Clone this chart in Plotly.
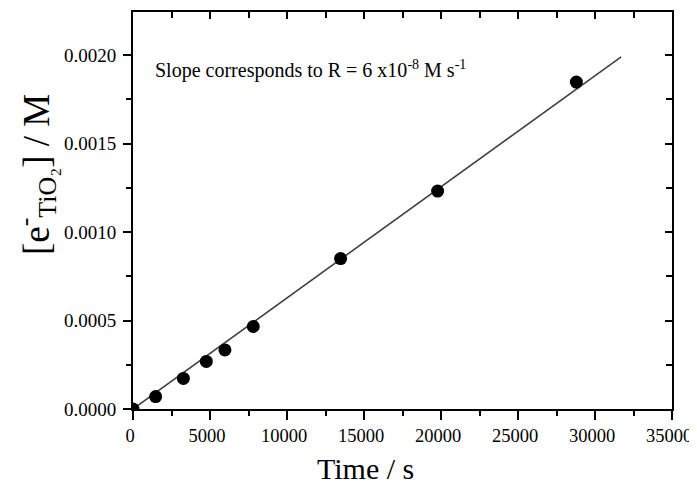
import plotly.graph_objects as go

# Data
time_s = [0, 1470, 3270, 4760, 5970, 7810, 13480, 19780, 28790]
conc_M = [0.0, 0.00007, 0.000173, 0.000269, 0.000334, 0.000466, 0.00085, 0.001231, 0.001847]
fit_time = [0, 31700]
fit_conc = [0.0, 0.00199]

x_ticks = [0, 5000, 10000, 15000, 20000, 25000, 30000, 35000]
x_tick_labels = ["0", "5000", "10000", "15000", "20000", "25000", "30000", "35000"]
y_ticks = [0.0, 0.0005, 0.0010, 0.0015, 0.0020]
y_tick_labels = ["0.0000", "0.0005", "0.0010", "0.0015", "0.0020"]

FONT = "Liberation Serif"
OFF = 8  # default page body margin
W, H = 697 - OFF, 486 - OFF
L, R, T = 133 - OFF, 25, 12 - OFF
B = OFF + H - 409
XR = [0, 35000]
YR = [0, 0.002243]

fig = go.Figure()
fig.add_trace(go.Scatter(x=fit_time, y=fit_conc, mode="lines",
                         line=dict(color="#404040", width=1.6), showlegend=False,
                         hoverinfo="skip"))
fig.add_trace(go.Scatter(x=time_s, y=conc_M, mode="markers",
                         marker=dict(color="black", size=13), showlegend=False))
fig.add_trace(go.Scatter(x=[None], y=[None], xaxis="x2", yaxis="y2", showlegend=False))

axis_common = dict(showgrid=False, zeroline=False, linecolor="black", linewidth=2,
                   tickcolor="black", tickwidth=1.5)

fig.update_layout(
    width=W, height=H,
    margin=dict(l=L, r=R, t=T, b=B, pad=0, autoexpand=False),
    plot_bgcolor="white", paper_bgcolor="white",
    font=dict(family=FONT, color="black"),
    xaxis=dict(range=XR, tickvals=x_ticks, ticktext=x_tick_labels, ticks="outside", ticklen=9,
               showline=True, tickfont=dict(size=18.5, family=FONT), ticklabelshift=-3,
               minor=dict(ticks="outside", ticklen=5, dtick=2500, tick0=0,
                          tickcolor="black", tickwidth=1.5),
               **axis_common),
    yaxis=dict(range=YR, tickvals=y_ticks, ticktext=y_tick_labels, ticks="outside",
               ticklen=8, showline=True, tickfont=dict(size=19, family=FONT),
               ticklabelstandoff=3,
               minor=dict(ticks="outside", ticklen=5, dtick=0.00025, tick0=0,
                          tickcolor="black", tickwidth=1.5),
               **axis_common),
    xaxis2=dict(range=XR, overlaying="x", side="top", showticklabels=False,
                tickvals=x_ticks, ticks="inside", ticklen=7, showline=True,
                minor=dict(ticks="inside", ticklen=6, dtick=2500, tick0=0,
                           tickcolor="black", tickwidth=1.5),
                **axis_common),
    yaxis2=dict(range=YR, overlaying="y", side="right", showticklabels=False,
                tickvals=y_ticks, ticks="inside", ticklen=7, showline=True,
                minor=dict(ticks="inside", ticklen=6, dtick=0.00025, tick0=0,
                           tickcolor="black", tickwidth=1.5),
                **axis_common),
)

pw = W - L - R
ph = H - T - B


def px(xp):
    return (xp - OFF - L) / pw


def py(yp):
    return (H - B - (yp - OFF)) / ph


fig.add_annotation(text="Slope corresponds to R = 6 x10<sup>-8</sup> M s<sup>-1</sup>",
                   xref="paper", yref="paper", x=px(153), y=py(69),
                   xanchor="left", yanchor="middle", showarrow=False,
                   font=dict(size=20, family=FONT))

fig.add_annotation(text="Time / s", xref="paper", yref="paper",
                   x=px(365), y=py(468),
                   xanchor="center", yanchor="middle", showarrow=False,
                   font=dict(size=30, family=FONT))

fig.add_annotation(text="[e<sup>-</sup><sub>TiO₂</sub>] / M", xref="paper", yref="paper",
                   x=px(36), y=py(175), textangle=-90,
                   xanchor="center", yanchor="middle", showarrow=False,
                   font=dict(size=37, family=FONT))

fig.write_html("out.html")
